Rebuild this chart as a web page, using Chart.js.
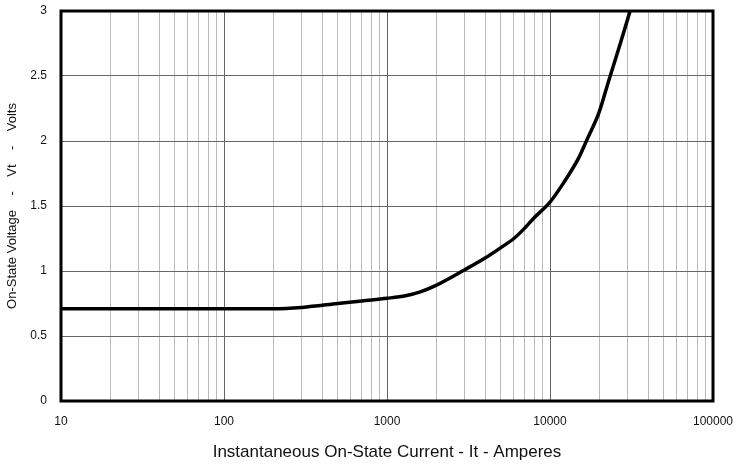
<!DOCTYPE html>
<html>
<head>
<meta charset="utf-8">
<script src="https://cdn.jsdelivr.net/npm/chart.js@4"></script>
<style>
  body { margin: 0; background: #fff; }
  #wrap { width: 734px; height: 468px; }
</style>
</head>
<body>
<div id="wrap"><canvas id="myChart" width="734" height="468"></canvas></div>
<script>
// on-state current (A) vs on-state voltage (V)
var current = [10, 50, 100, 200, 300, 500, 700, 1000, 1300, 1600, 2000, 3000, 4000, 5000, 6000, 7000, 8000, 10000, 12000, 15000, 17000, 20000, 23000, 27000, 31000];
var voltage = [0.71, 0.71, 0.71, 0.71, 0.72, 0.75, 0.77, 0.79, 0.81, 0.84, 0.89, 1.01, 1.10, 1.18, 1.25, 1.33, 1.41, 1.53, 1.67, 1.87, 2.02, 2.22, 2.47, 2.75, 3.0];
var decades = [10, 100, 1000, 10000, 100000];
var yTicks = [0, 0.5, 1, 1.5, 2, 2.5, 3];

var points = current.map(function (c, i) { return { x: c, y: voltage[i] }; });

function isDecade(v) { return decades.indexOf(v) !== -1; }

// drop the automatic label overflow padding so layout.padding decides the plot box
function noPad(scale) {
    scale.paddingTop = 0;
    scale.paddingBottom = 0;
    scale.paddingLeft = 0;
    scale.paddingRight = 0;
}

var frame = {
    id: 'frame',
    afterDraw: function (chart) {
        var a = chart.chartArea, c = chart.ctx;
        c.save();
        c.lineWidth = 3;
        c.strokeStyle = '#000';
        c.strokeRect(a.left, a.top, a.right - a.left, a.bottom - a.top);
        c.restore();
    }
};

var ctx = document.getElementById('myChart').getContext('2d');
var myChart = new Chart(ctx, {
    type: 'line',
    data: {
        datasets: [{
            data: points,
            borderColor: '#000',
            borderWidth: 3.5,
            pointRadius: 0,
            cubicInterpolationMode: 'monotone',
            fill: false
        }]
    },
    options: {
        responsive: false,
        animation: false,
        layout: { padding: { top: 11, right: 21, left: 0, bottom: 0 } },
        plugins: {
            legend: { display: false },
            tooltip: { enabled: false }
        },
        scales: {
            x: {
                type: 'logarithmic',
                min: 10,
                max: 100000,
                afterBuildTicks: function (scale) {
                    var t = [];
                    for (var d = 10; d < 100000; d *= 10) {
                        for (var m = 1; m < 10; m++) t.push({ value: d * m });
                    }
                    t.push({ value: 100000 });
                    scale.ticks = t;
                },
                afterFit: function (scale) { scale.height = 67; noPad(scale); },
                grid: {
                    drawTicks: false,
                    color: function (c) { return isDecade(c.tick.value) ? '#666' : '#bbb'; },
                    lineWidth: 1
                },
                border: { display: false },
                ticks: {
                    autoSkip: false,
                    maxRotation: 0,
                    padding: 13,
                    color: '#111',
                    font: { family: 'Liberation Sans', size: 12 },
                    callback: function (v) { return isDecade(v) ? String(v) : ''; }
                },
                title: {
                    display: true,
                    text: 'Instantaneous On-State Current - It - Amperes',
                    color: '#111',
                    font: { family: 'Liberation Sans', size: 17 },
                    padding: { top: 0, bottom: 5 }
                }
            },
            y: {
                min: 0,
                max: 3,
                afterBuildTicks: function (scale) {
                    scale.ticks = yTicks.map(function (v) { return { value: v }; });
                },
                afterFit: function (scale) { scale.width = 61; noPad(scale); },
                grid: { drawTicks: false, color: '#666', lineWidth: 1 },
                border: { display: false },
                ticks: {
                    padding: 14,
                    color: '#111',
                    font: { family: 'Liberation Sans', size: 12 },
                    callback: function (v) { return String(v); }
                },
                title: {
                    display: true,
                    text: 'On-State Voltage    -    Vt    -    Volts',
                    color: '#111',
                    font: { family: 'Liberation Sans', size: 13 },
                    padding: { top: 5, bottom: 0 }
                }
            }
        }
    },
    plugins: [frame]
});
</script>
</body>
</html>
